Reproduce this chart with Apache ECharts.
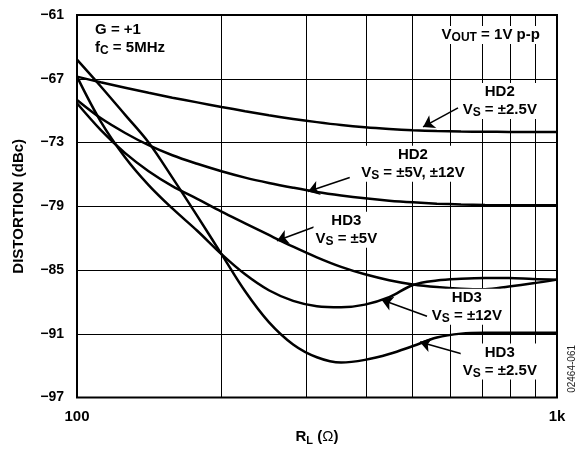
<!DOCTYPE html>
<html><head><meta charset="utf-8">
<script src="https://cdn.jsdelivr.net/npm/echarts@6/dist/echarts.min.js"></script>
<style>html,body{margin:0;padding:0;background:#fff}#c{width:587px;height:451px}</style>
</head><body><div id="c"></div>
<script>
// ---- data (load resistance in ohms, distortion in dBc) ----
const resistance  = [100,112,126,141,158,178,200,224,251,282,316,355,398,447,501,562,631,708,794,891,1000];
const hd2Vs2p5    = [-66.8,-67.33,-67.84,-68.32,-68.78,-69.22,-69.65,-70.05,-70.43,-70.78,-71.08,-71.35,-71.56,-71.72,-71.84,-71.92,-71.97,-71.99,-72.0,-72.0,-72.0];
const hd2Vs5and12 = [-69.0,-70.7,-72.1,-73.25,-74.2,-75.0,-75.7,-76.3,-76.8,-77.25,-77.65,-77.98,-78.25,-78.47,-78.63,-78.75,-78.83,-78.88,-78.9,-78.9,-78.9];
const hd3Vs5      = [-69.3,-71.8,-74.0,-75.7,-77.1,-78.3,-79.5,-80.6,-81.7,-82.8,-83.8,-84.7,-85.4,-85.95,-86.35,-86.6,-86.75,-86.8,-86.55,-86.25,-85.9];
const hd3Vs12     = [-66.8,-71.0,-74.4,-77.0,-79.2,-81.3,-83.5,-85.4,-86.9,-87.9,-88.4,-88.5,-88.25,-87.55,-86.4,-85.98,-85.82,-85.75,-85.75,-85.85,-85.9];
const hd3Vs2p5    = [-65.2,-67.7,-70.4,-73.0,-76.3,-79.9,-83.5,-87.0,-89.9,-92.0,-93.2,-93.7,-93.45,-92.9,-92.15,-91.35,-90.98,-90.9,-90.9,-90.9,-90.9];

const yTicks = [-97,-91,-85,-79,-73,-67,-61];
const xTicks = [100, 1000];
const xTickLabels = ['100', '1k'];
const xGridLines = [200,300,400,500,600,700,800,900];

// annotation arrows: [from, to] in data coordinates
const arrows = [
  [[622,-69.74],[526,-71.53]],
  [[370,-76.3],[303,-77.6]],
  [[321,-80.74],[261,-82.24]],
  [[536,-89.35],[431,-87.8]],
  [[643,-92.96],[518,-91.76]]
];
// text annotations: anchor in data coordinates
const notes = [
  {at:[108,-61.56], align:'left',   text:'{n|G = +1}\n{n|f}{s|C}{n| = 5MHz}'},
  {at:[930,-62.03], align:'right',  text:'{n|V}{s|OUT}{n| = 1V p-p}'},
  {at:[760,-67.39], align:'center', text:'{n|HD2}\n{n|V}{s|S}{n| = \u00b12.5V}'},
  {at:[501,-73.31], align:'center', text:'{n|HD2}\n{n|V}{s|S}{n| = \u00b15V, \u00b112V}'},
  {at:[364,-79.52], align:'center', text:'{n|HD3}\n{n|V}{s|S}{n| = \u00b15V}'},
  {at:[649,-86.75], align:'center', text:'{n|HD3}\n{n|V}{s|S}{n| = \u00b112V}'},
  {at:[760,-91.92], align:'center', text:'{n|HD3}\n{n|V}{s|S}{n| = \u00b12.5V}'}
];

const FONT = '"Liberation Sans", Arial, Helvetica, sans-serif';
const pair = ys => resistance.map((r, i) => [r, ys[i]]);

const curveBase = {
  type: 'line', smooth: 0.35, symbol: 'none', silent: true,
  lineStyle: {color: '#000', width: 2.5}
};

const chart = echarts.init(document.getElementById('c'), null, {renderer: 'canvas'});
chart.setOption({
  animation: false,
  backgroundColor: '#fff',
  grid: {left: 77, right: 30, top: 15, bottom: 53, show: true, borderColor: '#000', borderWidth: 2},
  xAxis: {
    type: 'log', logBase: 10, min: xTicks[0], max: xTicks[xTicks.length - 1],
    axisLine: {show: false}, axisTick: {show: false}, splitLine: {show: false},
    axisLabel: {
      margin: 12, color: '#000', fontFamily: FONT, fontWeight: 'bold', fontSize: 15,
      formatter: v => { const i = xTicks.indexOf(Math.round(v)); return i >= 0 ? xTickLabels[i] : ''; }
    },
    name: '{n|R}{s|L}{n| (}{o|\u03a9}{n|)}', nameLocation: 'middle', nameGap: 29,
    nameTextStyle: {
      rich: {
        n: {fontFamily: FONT, fontWeight: 'bold', fontSize: 15, lineHeight: 18, color: '#000'},
        s: {fontFamily: FONT, fontWeight: 'bold', fontSize: 11, lineHeight: 8, verticalAlign: 'bottom', color: '#000'},
        o: {fontFamily: FONT, fontWeight: 'normal', fontSize: 15, lineHeight: 18, color: '#000'}
      }
    }
  },
  yAxis: {
    type: 'value', min: yTicks[0], max: yTicks[yTicks.length - 1], interval: yTicks[1] - yTicks[0],
    axisLine: {show: false}, axisTick: {show: false},
    splitLine: {lineStyle: {color: '#000', width: 1}},
    axisLabel: {
      margin: 13, color: '#000', fontFamily: FONT, fontWeight: 'bold', fontSize: 14,
      formatter: v => '\u2212' + Math.abs(v)
    },
    name: 'DISTORTION (dBc)', nameLocation: 'middle', nameGap: 51,
    nameTextStyle: {color: '#000', fontFamily: FONT, fontWeight: 'bold', fontSize: 15}
  },
  series: [
    Object.assign({}, curveBase, {
      name: 'HD2 VS=±2.5V', data: pair(hd2Vs2p5), z: 3,
      markLine: {
        silent: true, symbol: 'none', label: {show: false},
        lineStyle: {color: '#000', width: 1, type: 'solid'},
        data: xGridLines.map(v => ({xAxis: v}))
      }
    }),
    Object.assign({}, curveBase, {name: 'HD2 VS=±5V,±12V', data: pair(hd2Vs5and12), z: 3}),
    Object.assign({}, curveBase, {name: 'HD3 VS=±5V', data: pair(hd3Vs5), z: 3}),
    Object.assign({}, curveBase, {name: 'HD3 VS=±12V', data: pair(hd3Vs12), z: 3}),
    Object.assign({}, curveBase, {
      name: 'HD3 VS=±2.5V', data: pair(hd3Vs2p5), z: 3,
      markLine: {
        silent: true, symbol: ['none', 'arrow'], symbolSize: 11, label: {show: false},
        lineStyle: {color: '#000', width: 1.6, type: 'solid'},
        data: arrows.map(a => [{coord: a[0]}, {coord: a[1]}])
      }
    })
  ]
});

const rich = {
  n: {fontFamily: FONT, fontWeight: 'bold', fontSize: 15, lineHeight: 18, fill: '#000'},
  s: {fontFamily: FONT, fontWeight: 'bold', fontSize: 12, lineHeight: 9, verticalAlign: 'bottom', fill: '#000'}
};
const graphics = notes.map(nt => {
  const p = chart.convertToPixel({gridIndex: 0}, nt.at);
  return {
    type: 'text', x: p[0], y: p[1], z: 100, silent: true,
    style: {text: nt.text, rich: rich, align: nt.align, verticalAlign: 'top',
            backgroundColor: '#fff', padding: [0, 2], fill: '#000'}
  };
});
const idPos = chart.convertToPixel({gridIndex: 0}, [1000, -94.3]);
graphics.push({
  type: 'text', x: idPos[0] + 15, y: idPos[1], rotation: Math.PI / 2, z: 100, silent: true,
  style: {text: '02464-061', fontFamily: FONT, fontSize: 10, fill: '#222', align: 'center', verticalAlign: 'middle'}
});
chart.setOption({graphic: graphics});
</script>
</body></html>
